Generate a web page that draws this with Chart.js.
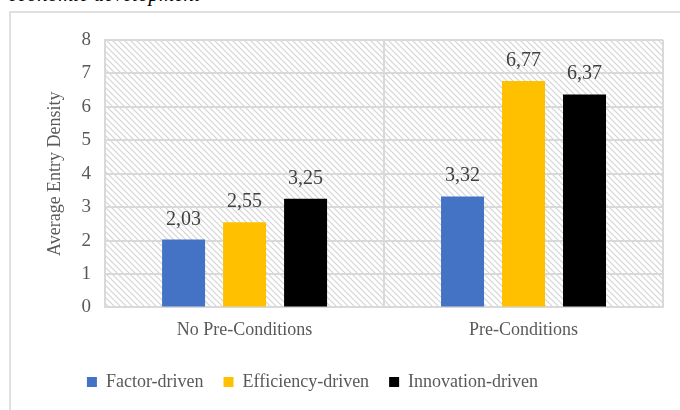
<!DOCTYPE html>
<html>
<head>
<meta charset="utf-8">
<script src="https://cdn.jsdelivr.net/npm/chart.js@4.4.1/dist/chart.umd.min.js"></script>
<style>
  body { margin: 0; width: 680px; height: 410px; overflow: hidden; background: #fff; position: relative; }
  .caption { position: absolute; left: 8px; top: -16px; font: italic 21px "Liberation Serif", "Times New Roman", serif; color: #000; line-height: 20px; white-space: nowrap; }
  .frame { position: absolute; left: 9px; top: 11px; width: 700px; height: 430px; border: 2px solid #e0e0e0; }
  #wrap { position: absolute; left: 0; top: 0; width: 680px; height: 410px; }
</style>
</head>
<body>
<div class="caption">economic development</div>
<div class="frame"></div>
<div id="wrap"><canvas id="BarChart"></canvas></div>
<script>
const categories = ['No Pre-Conditions', 'Pre-Conditions'];
const factorDriven = [2.03, 3.32];
const efficiencyDriven = [2.55, 6.77];
const innovationDriven = [3.25, 6.37];
const yTicks = [0, 1, 2, 3, 4, 5, 6, 7, 8];

const serif = '"Liberation Serif", "Times New Roman", serif';

// diagonal hatch behind the bars
function makeHatch() {
    const c = document.createElement('canvas');
    c.width = 6; c.height = 6;
    const g = c.getContext('2d');
    g.strokeStyle = '#d4d4d4';
    g.lineWidth = 1.2;
    g.beginPath();
    g.moveTo(-1, -1); g.lineTo(7, 7);
    g.moveTo(-1, 5); g.lineTo(1, 7);
    g.moveTo(5, -1); g.lineTo(7, 1);
    g.stroke();
    return g.createPattern(c, 'repeat');
}

const hatchPlugin = {
    id: 'hatch',
    beforeDraw(chart) {
        const a = chart.chartArea;
        const ctx = chart.ctx;
        ctx.save();
        ctx.fillStyle = makeHatch();
        ctx.fillRect(a.left, a.top, a.right - a.left, a.bottom - a.top);
        ctx.restore();
    }
};

// values above each bar, with decimal comma
const valueLabels = {
    id: 'valueLabels',
    afterDatasetsDraw(chart) {
        const ctx = chart.ctx;
        ctx.save();
        ctx.font = '20px ' + serif;
        ctx.fillStyle = '#404040';
        ctx.textAlign = 'center';
        ctx.textBaseline = 'alphabetic';
        chart.data.datasets.forEach((ds, i) => {
            chart.getDatasetMeta(i).data.forEach((bar, j) => {
                ctx.fillText(ds.data[j].toFixed(2).replace('.', ','), bar.x, bar.y - 15);
            });
        });
        ctx.restore();
    }
};

// nudge the legend left under the plot
const legendShift = {
    id: 'legendShift',
    afterLayout(chart) {
        chart.legend.left -= 41;
        chart.legend.right -= 41;
    }
};

new Chart(document.getElementById('BarChart'), {
    type: 'bar',
    data: {
        labels: categories,
        datasets: [
            { label: 'Factor-driven', data: factorDriven, backgroundColor: '#4472C4' },
            { label: 'Efficiency-driven', data: efficiencyDriven, backgroundColor: '#FFC000' },
            { label: 'Innovation-driven', data: innovationDriven, backgroundColor: '#000000' }
        ]
    },
    options: {
        responsive: true,
        maintainAspectRatio: false,
        animation: false,
        categoryPercentage: 0.656,
        barPercentage: 0.705,
        layout: { padding: { left: 44, right: 17, top: 40, bottom: 9 } },
        plugins: {
            tooltip: { enabled: false },
            legend: {
                position: 'bottom',
                labels: {
                    boxWidth: 10,
                    boxHeight: 10,
                    padding: 20,
                    color: '#595959',
                    font: { family: serif, size: 18 }
                }
            }
        },
        scales: {
            x: {
                grid: { offset: true, color: '#d9d9d9', lineWidth: 2, drawTicks: false },
                border: { color: '#d9d9d9', width: 2 },
                ticks: { color: '#595959', padding: 12, font: { family: serif, size: 18 } }
            },
            y: {
                min: 0,
                max: 8,
                afterBuildTicks(scale) { scale.ticks = yTicks.map(v => ({ value: v })); },
                grid: { color: '#d9d9d9', lineWidth: 2, drawTicks: false },
                border: { color: '#d9d9d9', width: 2 },
                ticks: { color: '#595959', padding: 14, font: { family: serif, size: 19 } },
                title: {
                    display: true,
                    text: 'Average Entry Density',
                    color: '#595959',
                    padding: { top: 0, bottom: 2 },
                    font: { family: serif, size: 18 }
                }
            }
        }
    },
    plugins: [hatchPlugin, valueLabels, legendShift]
});
</script>
</body>
</html>
